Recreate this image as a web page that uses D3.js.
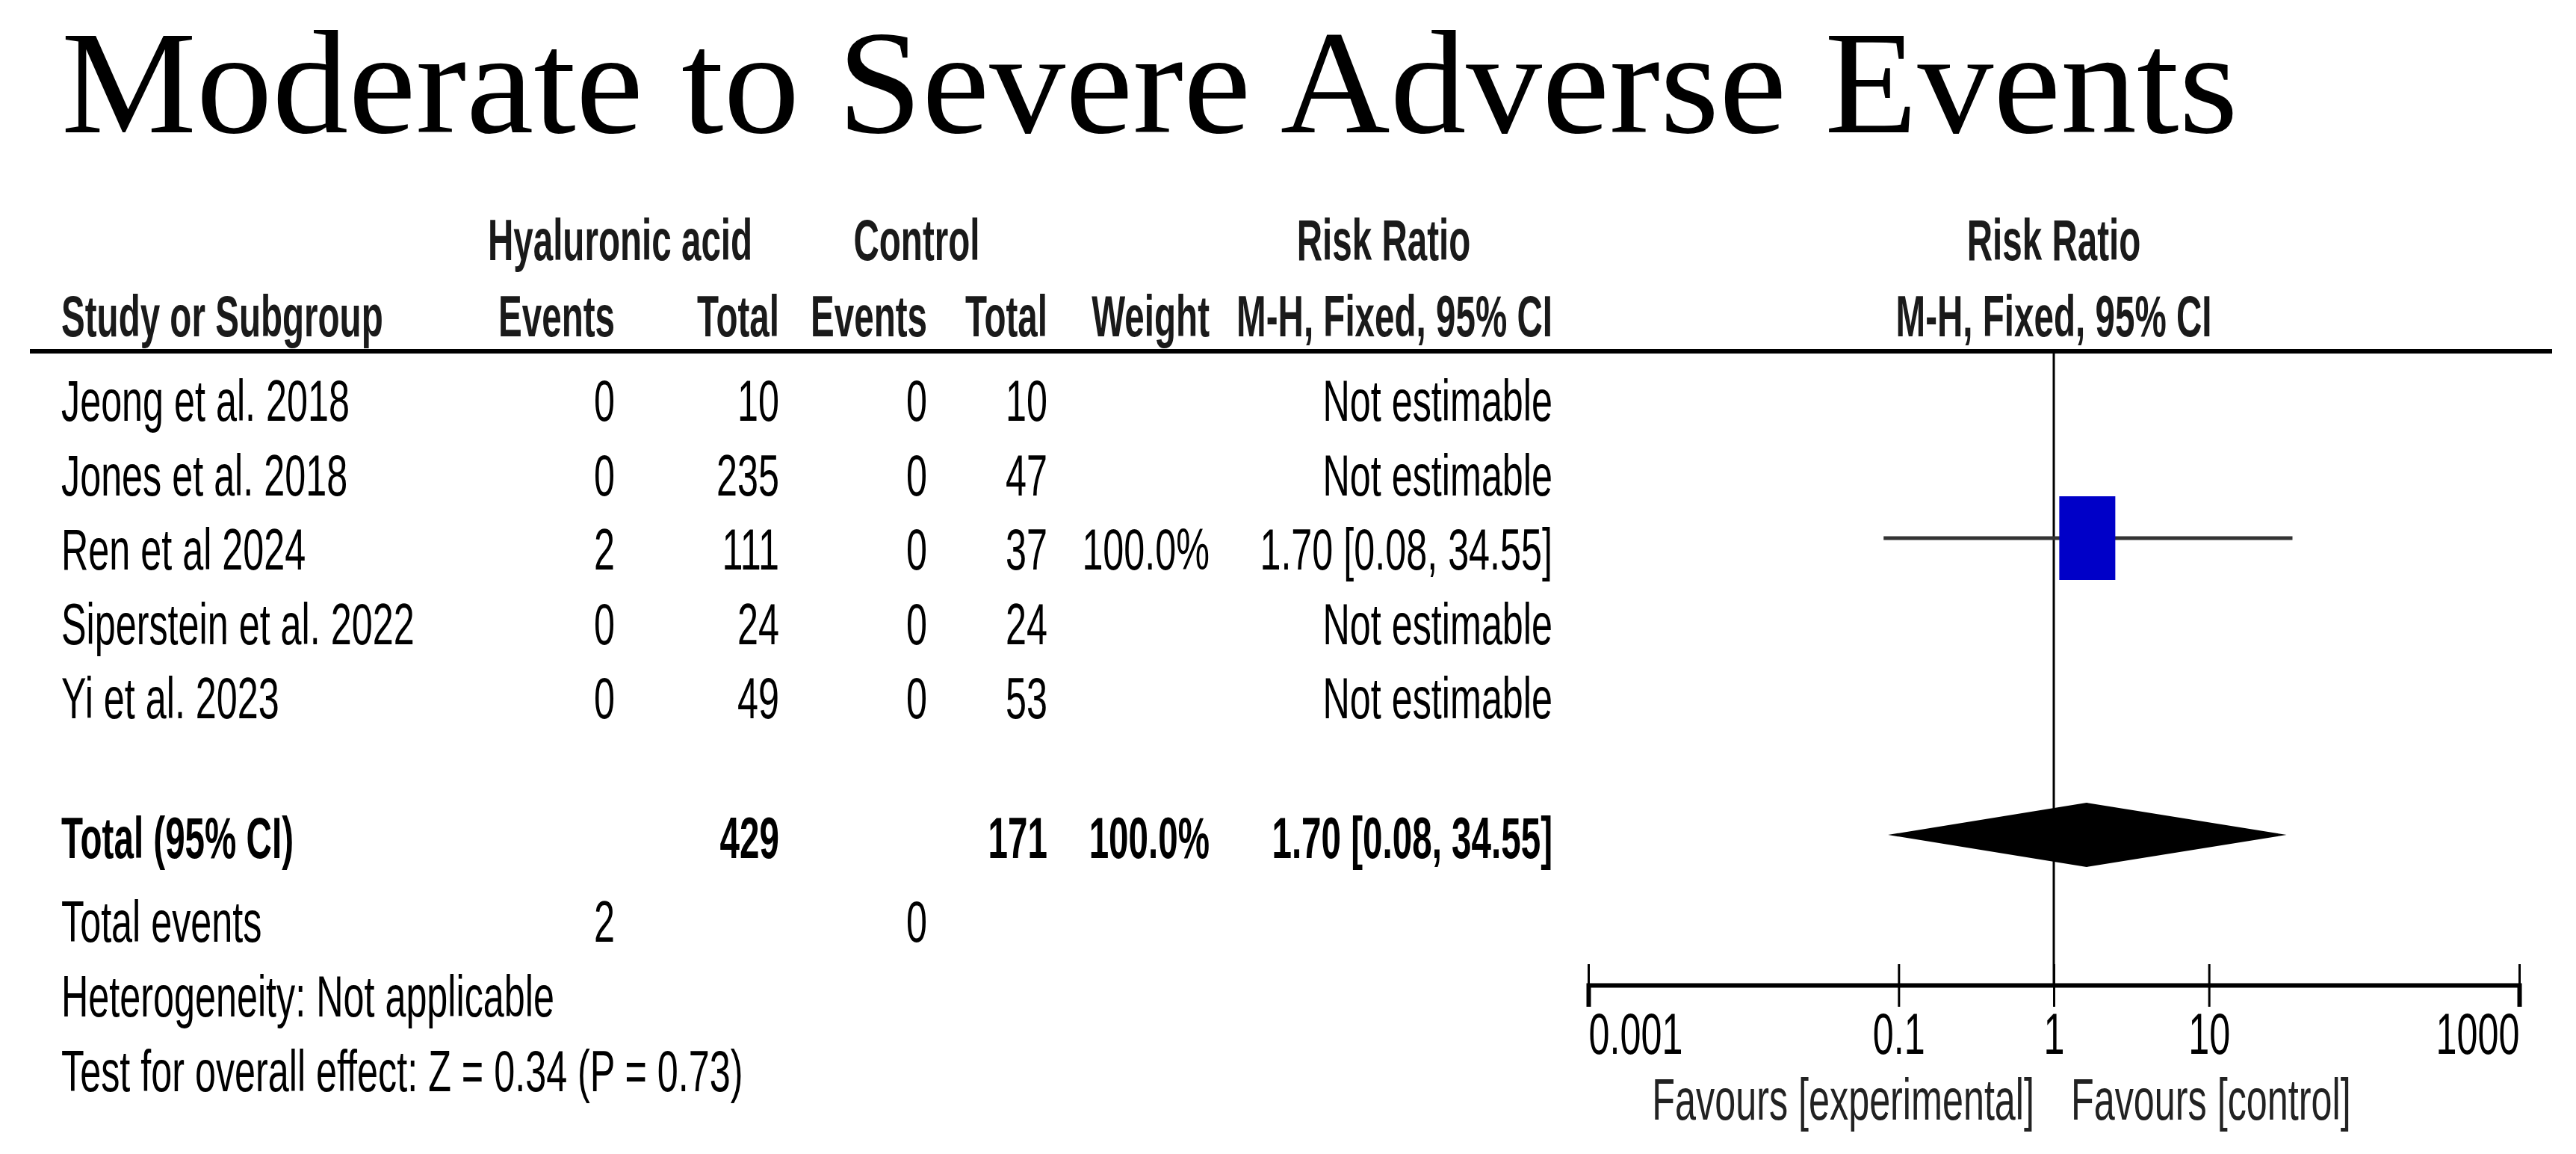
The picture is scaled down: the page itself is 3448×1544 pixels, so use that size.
<!DOCTYPE html>
<html><head><meta charset="utf-8">
<script src="https://cdn.jsdelivr.net/npm/d3@7"></script>
<style>html,body{margin:0;padding:0;background:#fff}</style>
</head><body>
<svg id="chart" width="3448" height="1544"></svg>
<script>
// ---------- data ----------
const studies    = ["Jeong et al. 2018", "Jones et al. 2018", "Ren et al 2024", "Siperstein et al. 2022", "Yi et al. 2023"];
const haEvents   = [0, 0, 2, 0, 0];
const haTotal    = [10, 235, 111, 24, 49];
const ctrlEvents = [0, 0, 0, 0, 0];
const ctrlTotal  = [10, 47, 37, 24, 53];
const weights    = [null, null, 100.0, null, null];
const rr         = [null, null, 1.70, null, null];
const ciLow      = [null, null, 0.08, null, null];
const ciHigh     = [null, null, 34.55, null, null];
const pooled     = [1.70, 0.08, 34.55];      // estimate, low, high
const totals     = [429, 171];               // HA total, control total
const totalEvents = [2, 0];                  // HA events, control events
const totalWeight = 100.0;
const heterogeneity = "Heterogeneity: Not applicable";
const overallTest   = "Test for overall effect: Z = 0.34 (P = 0.73)";
const tickValues = [0.001, 0.1, 1, 10, 1000];
const tickLabels = ["0.001", "0.1", "1", "10", "1000"];
const favourLabels = ["Favours [experimental]", "Favours [control]"];

// ---------- setup ----------
const SANS = "'Liberation Sans', Arial, Helvetica, sans-serif";
const SERIF = "'Liberation Serif', 'Times New Roman', serif";
const FS = 78, SX = 0.645, SXB = 0.61;
const svg = d3.select("#chart");
svg.append("rect").attr("width", 3448).attr("height", 1544).attr("fill", "#fff");

function txt(x, y, s, o = {}) {
  const bold = !!o.bold;
  const sx = o.sx ?? (bold ? SXB : SX);
  const g = svg.append("g").attr("transform", `translate(${x},${y}) scale(${sx},1)`);
  g.append("text")
    .attr("text-anchor", o.anchor || "start")
    .attr("font-family", o.family || SANS)
    .attr("font-size", o.size || FS)
    .attr("font-weight", bold ? "bold" : "normal")
    .attr("fill", o.fill || "#000")
    .text(s);
}

// ---------- title ----------
txt(82, 177, "Moderate to Severe Adverse Events", {family: SERIF, size: 198, sx: 1.027});

// ---------- column positions ----------
const col = {study: 82, haE: 823, haT: 1043, cE: 1241, cT: 1402, w: 1619, ci: 2078};
const H1 = 348, H2 = 450;

// headers
txt(830, H1, "Hyaluronic acid", {anchor: "middle", bold: true, fill: "#1a1a1a"});
txt(1227, H1, "Control", {anchor: "middle", bold: true, fill: "#1a1a1a"});
txt(1852, H1, "Risk Ratio", {anchor: "middle", bold: true, fill: "#1a1a1a"});
txt(col.study, H2, "Study or Subgroup", {bold: true, fill: "#1a1a1a"});
txt(col.haE, H2, "Events", {anchor: "end", bold: true, fill: "#1a1a1a"});
txt(col.haT, H2, "Total", {anchor: "end", bold: true, fill: "#1a1a1a"});
txt(col.cE, H2, "Events", {anchor: "end", bold: true, fill: "#1a1a1a"});
txt(col.cT, H2, "Total", {anchor: "end", bold: true, fill: "#1a1a1a"});
txt(col.w, H2, "Weight", {anchor: "end", bold: true, fill: "#1a1a1a"});
txt(col.ci, H2, "M-H, Fixed, 95% CI", {anchor: "end", bold: true, fill: "#1a1a1a"});

// forest plot scale
const x = d3.scaleLog().domain([0.001, 1000]).range([2126, 3372]);
txt(x(1), H1, "Risk Ratio", {anchor: "middle", bold: true, fill: "#1a1a1a"});
txt(x(1), H2, "M-H, Fixed, 95% CI", {anchor: "middle", bold: true, fill: "#1a1a1a"});

// header rule
svg.append("line").attr("x1", 40).attr("x2", 3416).attr("y1", 470).attr("y2", 470)
  .attr("stroke", "#000").attr("stroke-width", 6);

// rows
const y = d3.scaleLinear().domain([0, 1]).range([563, 662.5]);
const fmt2 = d3.format(".2f");
studies.forEach((s, i) => {
  const yy = y(i);
  txt(col.study, yy, s);
  txt(col.haE, yy, haEvents[i], {anchor: "end"});
  txt(col.haT, yy, haTotal[i], {anchor: "end"});
  txt(col.cE, yy, ctrlEvents[i], {anchor: "end"});
  txt(col.cT, yy, ctrlTotal[i], {anchor: "end"});
  if (weights[i] != null) txt(col.w, yy, d3.format(".1f")(weights[i]) + "%", {anchor: "end"});
  const ciStr = rr[i] == null ? "Not estimable"
    : `${fmt2(rr[i])} [${fmt2(ciLow[i])}, ${fmt2(ciHigh[i])}]`;
  txt(col.ci, yy, ciStr, {anchor: "end"});
});

// vertical line of no effect
const axisY = 1318;
svg.append("line").attr("x1", x(1)).attr("x2", x(1)).attr("y1", 470).attr("y2", axisY)
  .attr("stroke", "#000").attr("stroke-width", 3);

// study marks
studies.forEach((s, i) => {
  if (rr[i] == null) return;
  const cy = y(i) - 42;
  svg.append("line").attr("x1", x(ciLow[i])).attr("x2", x(ciHigh[i]))
    .attr("y1", cy).attr("y2", cy).attr("stroke", "#333").attr("stroke-width", 5);
  const bw = 75 * Math.sqrt(weights[i] / 100), bh = 112 * Math.sqrt(weights[i] / 100);
  svg.append("rect").attr("x", x(rr[i]) - bw / 2 - 3).attr("y", cy - bh / 2)
    .attr("width", bw).attr("height", bh).attr("fill", "#0000c8");
});

// total row
const yT = 1148;
txt(col.study, yT, "Total (95% CI)", {bold: true});
txt(col.haT, yT, totals[0], {anchor: "end", bold: true});
txt(col.cT, yT, totals[1], {anchor: "end", bold: true});
txt(col.w, yT, d3.format(".1f")(totalWeight) + "%", {anchor: "end", bold: true});
txt(col.ci, yT, `${fmt2(pooled[0])} [${fmt2(pooled[1])}, ${fmt2(pooled[2])}]`, {anchor: "end", bold: true});
const dy = yT - 31, dh = 43;
svg.append("path")
  .attr("d", `M${x(pooled[1]) + 6},${dy} L${x(pooled[0]) - 4},${dy - dh} L${x(pooled[2]) - 8},${dy} L${x(pooled[0]) - 4},${dy + dh} Z`)
  .attr("fill", "#000");

txt(col.study, 1260, "Total events");
txt(col.haE, 1260, totalEvents[0], {anchor: "end"});
txt(col.cE, 1260, totalEvents[1], {anchor: "end"});
txt(col.study, 1360, heterogeneity);
txt(col.study, 1460, overallTest);

// axis
const ax = svg.append("g").attr("transform", `translate(0,${axisY})`)
  .call(d3.axisBottom(x).tickValues(tickValues).tickFormat((d, i) => tickLabels[i]).tickSizeOuter(0).tickSize(29));
ax.select(".domain").attr("stroke", "#000").attr("stroke-width", 6);
ax.selectAll(".tick line").attr("y1", -28).attr("y2", 29).attr("stroke", "#000").attr("stroke-width", 3);
ax.selectAll(".tick text")
  .attr("y", 92).attr("dy", 0)
  .attr("font-family", SANS).attr("font-size", FS).attr("fill", "#000")
  .attr("transform", `scale(${SX},1)`)
  .attr("text-anchor", (d, i) => i === 0 ? "start" : (i === tickValues.length - 1 ? "end" : "middle"));
ax.attr("font-family", null).attr("font-size", null);

txt(x(1) - 26, 1498, favourLabels[0], {anchor: "end", fill: "#222"});
txt(x(1) + 23, 1498, favourLabels[1], {fill: "#222"});
</script>
</body></html>
